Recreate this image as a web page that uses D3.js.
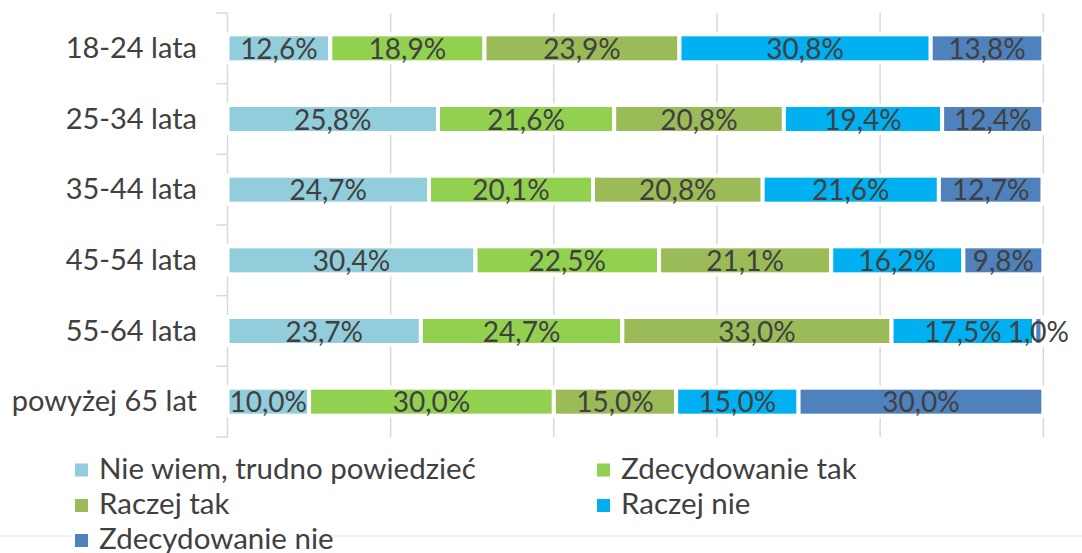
<!DOCTYPE html>
<html><head><meta charset="utf-8">
<script src="https://cdn.jsdelivr.net/npm/d3@7"></script>
<style>
html,body{margin:0;padding:0;background:#fff;}
svg{display:block;font-family:Lato, "Open Sans", sans-serif;}
</style></head>
<body><svg id="chart" width="1082" height="553"></svg>
<script>
const categories = ["18-24 lata","25-34 lata","35-44 lata","45-54 lata","55-64 lata","powyżej 65 lat"];
const seriesNames = ["Nie wiem, trudno powiedzieć","Zdecydowanie tak","Raczej tak","Raczej nie","Zdecydowanie nie"];
const seriesColors = ["#92CDDC","#92D050","#9BBB59","#00B0F0","#4F81BD"];
const nieWiem        = [12.6, 25.8, 24.7, 30.4, 23.7, 10.0];
const zdecydowanieTak= [18.9, 21.6, 20.1, 22.5, 24.7, 30.0];
const raczejTak      = [23.9, 20.8, 20.8, 21.1, 33.0, 15.0];
const raczejNie      = [30.8, 19.4, 21.6, 16.2, 17.5, 15.0];
const zdecydowanieNie= [13.8, 12.4, 12.7, 9.8, 1.0, 30.0];
const gridTicks = [0,20,40,60,80,100];

const seriesValues = [nieWiem, zdecydowanieTak, raczejTak, raczejNie, zdecydowanieNie];
const rows = categories.map((c,i)=>{
  const r = {cat:c};
  seriesNames.forEach((s,j)=> r[s]=seriesValues[j][i]);
  return r;
});

const svg = d3.select("#chart");
const x = d3.scaleLinear().domain([0,100]).range([227.5,1043.3]);
const band = d3.scaleBand().domain(categories).range([13,437]);

// background line
svg.append("line").attr("x1",0).attr("x2",1082).attr("y1",536).attr("y2",536)
  .attr("stroke","#eef2f6").attr("stroke-width",2);

// gridlines
svg.append("g").selectAll("line").data(gridTicks.slice(1)).join("line")
  .attr("x1",d=>x(d)).attr("x2",d=>x(d)).attr("y1",13).attr("y2",437)
  .attr("stroke","#d9d9d9").attr("stroke-width",1.5);

// y axis
const yAxis = d3.axisLeft(band).tickSize(0).tickFormat("");
const ga = svg.append("g").attr("transform",`translate(${x(0)-0.5},0)`).call(yAxis);
ga.select(".domain").attr("stroke","#d9d9d9").attr("stroke-width",1.5);
const bounds = categories.map(c=>band(c)).concat([437]);
svg.append("g").selectAll("line").data(bounds).join("line")
  .attr("x1",x(0)-11).attr("x2",x(0)).attr("y1",d=>d).attr("y2",d=>d)
  .attr("stroke","#d9d9d9").attr("stroke-width",1.5);

// category labels
svg.append("g").selectAll("text").data(categories).join("text")
  .attr("x",197).attr("y",d=>band(d)+band.bandwidth()/2+9.5)
  .attr("text-anchor","end")
  .attr("font-size",29).attr("fill","#404040").text(d=>d);

// stacked bars
const stack = d3.stack().keys(seriesNames)(rows);
const barH = 28;
const gs = svg.append("g").selectAll("g").data(stack).join("g")
  .attr("fill",(d,i)=>seriesColors[i]);
gs.selectAll("rect").data(d=>d).join("rect")
  .attr("x",d=>x(d[0])).attr("width",d=>x(d[1])-x(d[0]))
  .attr("y",d=>band(d.data.cat)+band.bandwidth()/2-barH/2).attr("height",barH)
  .attr("stroke","#fff").attr("stroke-width",4);

// labels
const lg = svg.append("g");
stack.forEach((s,i)=>{
  lg.selectAll(null).data(s).join("text")
    .attr("x",d=>(x(d[0])+x(d[1]))/2)
    .attr("y",d=>band(d.data.cat)+band.bandwidth()/2+10.5)
    .attr("text-anchor","middle")
    .attr("font-size",28).attr("fill","#404040")
    .text(d=>d3.format(".1f")(d[1]-d[0]).replace(".",",")+"%");
});

// legend
svg.append("rect").attr("x",72).attr("y",528).attr("width",250).attr("height",16).attr("fill","#fff");
const legPos = [[75,470],[597,470],[75,505.5],[597,505.5],[75,540.5]];
const leg = svg.append("g").selectAll("g").data(seriesNames).join("g")
  .attr("transform",(d,i)=>`translate(${legPos[i][0]},${legPos[i][1]})`);
leg.append("rect").attr("x",0).attr("y",-6.5).attr("width",13).attr("height",13)
  .attr("fill",(d,i)=>seriesColors[i]);
leg.append("text").attr("x",24).attr("y",8.5).attr("font-size",29.5)
  .attr("fill","#404040").text(d=>d);
</script></body></html>
